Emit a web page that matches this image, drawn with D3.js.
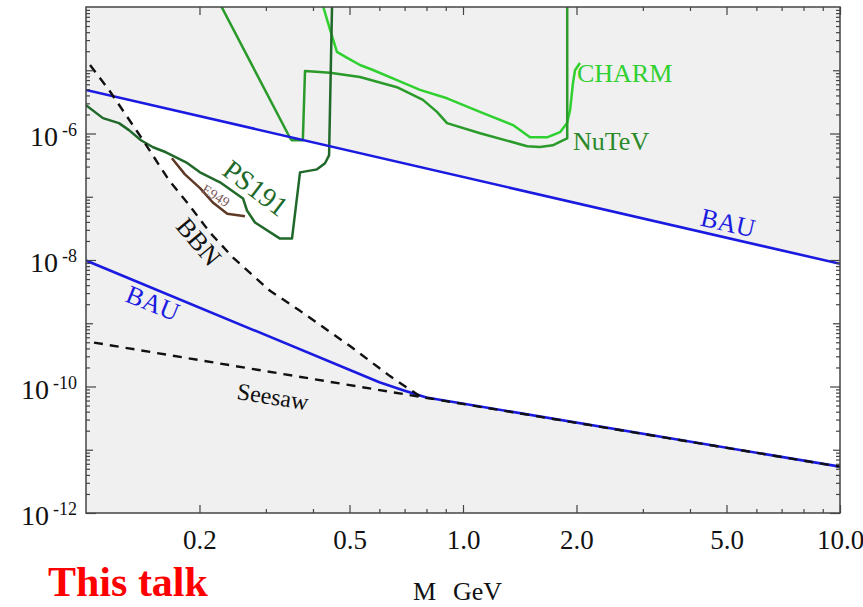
<!DOCTYPE html>
<html>
<head>
<meta charset="utf-8">
<script src="https://cdn.jsdelivr.net/npm/d3@7"></script>
<style>
  body { margin: 0; background: #fff; }
  svg { display: block; }
  text { font-family: "Liberation Serif", "Times New Roman", serif; }
</style>
</head>
<body>
<div class="chart"></div>
<script>
// tick values
const massTicks = [0.2, 0.5, 1, 2, 5, 10];
const massMinor = [0.3, 0.4, 0.6, 0.7, 0.8, 0.9, 3, 4, 6, 7, 8, 9];
const u2Major = [1e-12, 1e-10, 1e-8, 1e-6];
const u2Mid = [1e-11, 1e-9, 1e-7, 1e-5];

// curves, [M in GeV, U^2]
const bauUpper = [[0.1, 4.87e-6], [10, 8.7e-9]];
const bauLower = [[0.1, 9.8e-9], [0.6, 1.17e-10], [0.7, 8.6e-11], [0.8, 6.7e-11], [10, 5.4e-12]];
const seesaw = [[0.105, 4.95e-10], [10, 5.4e-12]];
const bbn = [[0.1025, 1.21e-5], [0.1151, 4.87e-6], [0.1417, 7.83e-7], [0.1661, 1.81e-7],
  [0.1864, 7.83e-8], [0.2133, 2.71e-8], [0.2455, 1.09e-8], [0.3077, 3.26e-9],
  [0.3696, 1.57e-9], [0.5016, 4.36e-10], [0.6403, 1.46e-10], [0.7691, 7.0e-11]];
const ps191 = [[0.1, 2.81e-6], [0.1109, 1.75e-6], [0.1223, 1.46e-6], [0.13, 1.13e-6],
  [0.1399, 7.83e-7], [0.1506, 6.06e-7], [0.163, 5.05e-7], [0.1843, 3.5e-7],
  [0.2006, 2.43e-7], [0.2267, 1.69e-7], [0.2609, 9.4e-8], [0.2673, 6.06e-8],
  [0.2807, 3.91e-8], [0.327, 2.18e-8], [0.3519, 2.18e-8], [0.3696, 2.43e-7],
  [0.41, 2.71e-7], [0.4305, 3.38e-7], [0.4413, 4.52e-7], [0.4494, 1.05e-4]];
const nutev = [[0.228, 1.05e-4], [0.348, 8.4e-7], [0.352, 7.8e-7], [0.376, 7.8e-7],
  [0.381, 9.75e-6], [0.444, 9.1e-6], [0.533, 7.8e-6], [0.668, 5.4e-6], [0.783, 3.4e-6],
  [0.853, 2.2e-6], [0.907, 1.46e-6], [1.11, 1.01e-6], [1.48, 6.3e-7], [1.6, 6.1e-7],
  [1.73, 6.5e-7], [1.84, 7.8e-7], [1.89, 8.4e-7], [1.89, 1.05e-4]];
const charm = [[0.425, 1.05e-4], [0.444, 4.4e-5], [0.463, 1.95e-5], [0.493, 1.57e-5],
  [0.533, 1.21e-5], [0.577, 1.01e-5], [0.668, 7.0e-6], [0.769, 4.9e-6], [0.907, 3.6e-6],
  [1.109, 2.2e-6], [1.357, 1.36e-6], [1.506, 8.7e-7], [1.671, 8.7e-7], [1.809, 1.05e-6],
  [1.888, 1.46e-6], [1.923, 2.34e-6], [1.958, 6.3e-6], [1.982, 1.0e-5], [2.043, 1.3e-5]];
const e949 = [[0.169, 4.05e-7], [0.183, 2.26e-7], [0.201, 1.36e-7], [0.217, 8.1e-8],
  [0.237, 5.4e-8], [0.264, 4.9e-8]];

const width = 863, height = 607;
const svg = d3.select(".chart").append("svg")
  .attr("width", width)
  .attr("height", height);

const xScale = d3.scaleLog().domain([0.1, 10]).range([86, 840]);
const yScale = d3.scaleLog().domain([1e-12, 1e-4]).range([513, 7]);
const [x0, x1] = xScale.range();
const [y0, y1] = yScale.range();

const line = d3.line().x(d => xScale(d[0])).y(d => yScale(d[1]));

svg.append("clipPath").attr("id", "plot")
  .append("rect")
  .attr("x", x0).attr("y", y1)
  .attr("width", x1 - x0).attr("height", y0 - y1);

svg.append("clipPath").attr("id", "belowBau")
  .append("path")
  .attr("d", line([...bauUpper, [10, 1e-12], [0.1, 1e-12]]) + "Z");

const plot = svg.append("g").attr("clip-path", "url(#plot)");

// excluded area grey, allowed band white
plot.append("rect")
  .attr("x", x0).attr("y", y1)
  .attr("width", x1 - x0).attr("height", y0 - y1)
  .attr("fill", "#f0f0f0");

const lowerBound = bbn.concat(bauLower.filter(d => d[0] > 0.77));
plot.append("g").attr("clip-path", "url(#belowBau)")
  .append("path")
  .attr("d", line([[0.1, 1e-4], [10, 1e-4], ...lowerBound.slice().reverse()]) + "Z")
  .attr("fill", "#fff");

function curve(data, color, w, dash) {
  plot.append("path")
    .datum(data)
    .attr("fill", "none")
    .attr("stroke", color)
    .attr("stroke-width", w)
    .attr("stroke-linejoin", "round")
    .attr("stroke-dasharray", dash || null)
    .attr("d", line);
}

curve(charm, "#2fd02f", 2.5);
curve(nutev, "#2a9a2a", 2.5);
curve(e949, "#5e3a26", 2.5);
curve(ps191, "#21692a", 2.5);
curve(bauUpper, "#1a1ae0", 2.6);
curve(bauLower, "#1a1ae0", 2.6);
curve(bbn, "#111", 2.4, "9,7");
curve(seesaw, "#111", 2.4, "9,7");

// axes
const axisColor = "#444";
function styleAxis(g) {
  g.select(".domain").remove();
  g.selectAll(".tick line").attr("stroke", axisColor).attr("stroke-width", 1.2);
}
const noLabel = () => "";

svg.append("g").attr("transform", `translate(0,${y0})`)
  .call(d3.axisBottom(xScale).tickValues(massTicks).tickSize(-8).tickPadding(17)
    .tickFormat(d3.format(".1f")))
  .call(styleAxis)
  .call(g => g.selectAll("text").attr("font-size", 27).attr("fill", "#111")
    .attr("font-family", "Liberation Serif, serif"));
svg.append("g").attr("transform", `translate(0,${y0})`)
  .call(d3.axisBottom(xScale).tickValues(massMinor).tickSize(-4).tickFormat(noLabel))
  .call(styleAxis);
svg.append("g").attr("transform", `translate(0,${y1})`)
  .call(d3.axisTop(xScale).tickValues(massTicks).tickSize(-8).tickFormat(noLabel))
  .call(styleAxis);
svg.append("g").attr("transform", `translate(0,${y1})`)
  .call(d3.axisTop(xScale).tickValues(massMinor).tickSize(-4).tickFormat(noLabel))
  .call(styleAxis);

const u2Minor = yScale.ticks().filter(d => {
  const m = Math.round(d / Math.pow(10, Math.floor(Math.log10(d) + 1e-9)));
  return m > 1;
});

[[d3.axisLeft, x0], [d3.axisRight, x1]].forEach(([ax, pos]) => {
  svg.append("g").attr("transform", `translate(${pos},0)`)
    .call(ax(yScale).tickValues(u2Major).tickSize(-10).tickFormat(noLabel))
    .call(styleAxis);
  svg.append("g").attr("transform", `translate(${pos},0)`)
    .call(ax(yScale).tickValues(u2Mid).tickSize(-7).tickFormat(noLabel))
    .call(styleAxis);
  svg.append("g").attr("transform", `translate(${pos},0)`)
    .call(ax(yScale).tickValues(u2Minor).tickSize(-4).tickFormat(noLabel))
    .call(styleAxis);
});

// y tick labels, 10 with exponent
const yLab = svg.append("g")
  .selectAll("text")
  .data(u2Major)
  .join("text")
  .attr("x", x0 - 9)
  .attr("y", d => yScale(d) + 12)
  .attr("text-anchor", "end")
  .attr("font-size", 28)
  .attr("fill", "#111");
yLab.append("tspan").text("10");
yLab.append("tspan")
  .attr("dx", 4)
  .attr("dy", -10)
  .attr("font-size", 18)
  .text(d => "-" + Math.round(-Math.log10(d)));

// frame
svg.append("rect")
  .attr("x", x0).attr("y", y1)
  .attr("width", x1 - x0).attr("height", y0 - y1)
  .attr("fill", "none")
  .attr("stroke", axisColor)
  .attr("stroke-width", 1.5);

// curve labels
const labels = [
  {text: "CHARM", m: 2.006, u: 6.52e-6, angle: 0, color: "#2fd02f", size: 26, anchor: "start"},
  {text: "NuTeV", m: 1.958, u: 5.43e-7, angle: 0, color: "#2a8a2a", size: 26, anchor: "start"},
  {text: "BAU", m: 5.05, u: 3.91e-8, angle: 13, color: "#1a1ae0", size: 26, anchor: "middle", mid: true},
  {text: "BAU", m: 0.1505, u: 2.1e-9, angle: 22, color: "#1a1ae0", size: 26, anchor: "middle", mid: true},
  {text: "BBN", m: 0.1994, u: 1.95e-8, angle: 50, color: "#111", size: 26, anchor: "middle", mid: true},
  {text: "PS191", m: 0.282, u: 1.38e-7, angle: 37, color: "#21692a", size: 28, anchor: "middle", mid: true},
  {text: "E949", m: 0.2212, u: 1.05e-7, angle: 32, color: "#7a5a5a", size: 14, anchor: "middle", mid: true},
  {text: "Seesaw", m: 0.3133, u: 7.0e-11, angle: 9, color: "#111", size: 24, anchor: "middle", mid: true}
];
svg.append("g")
  .selectAll("text")
  .data(labels)
  .join("text")
  .attr("transform", d => `translate(${xScale(d.m)},${yScale(d.u)}) rotate(${d.angle})`)
  .attr("text-anchor", d => d.anchor)
  .attr("dy", d => d.mid ? "0.35em" : 0)
  .attr("font-size", d => d.size)
  .attr("fill", d => d.color)
  .text(d => d.text);

// axis title and note
svg.append("text").attr("x", 413).attr("y", 600)
  .attr("font-size", 26).attr("fill", "#111").text("M");
svg.append("text").attr("x", 453).attr("y", 600)
  .attr("font-size", 26).attr("fill", "#111").text("GeV");
svg.append("text").attr("x", 48).attr("y", 596)
  .attr("font-size", 42).attr("font-weight", "bold").attr("fill", "#ff0000")
  .text("This talk");
</script>
</body>
</html>
